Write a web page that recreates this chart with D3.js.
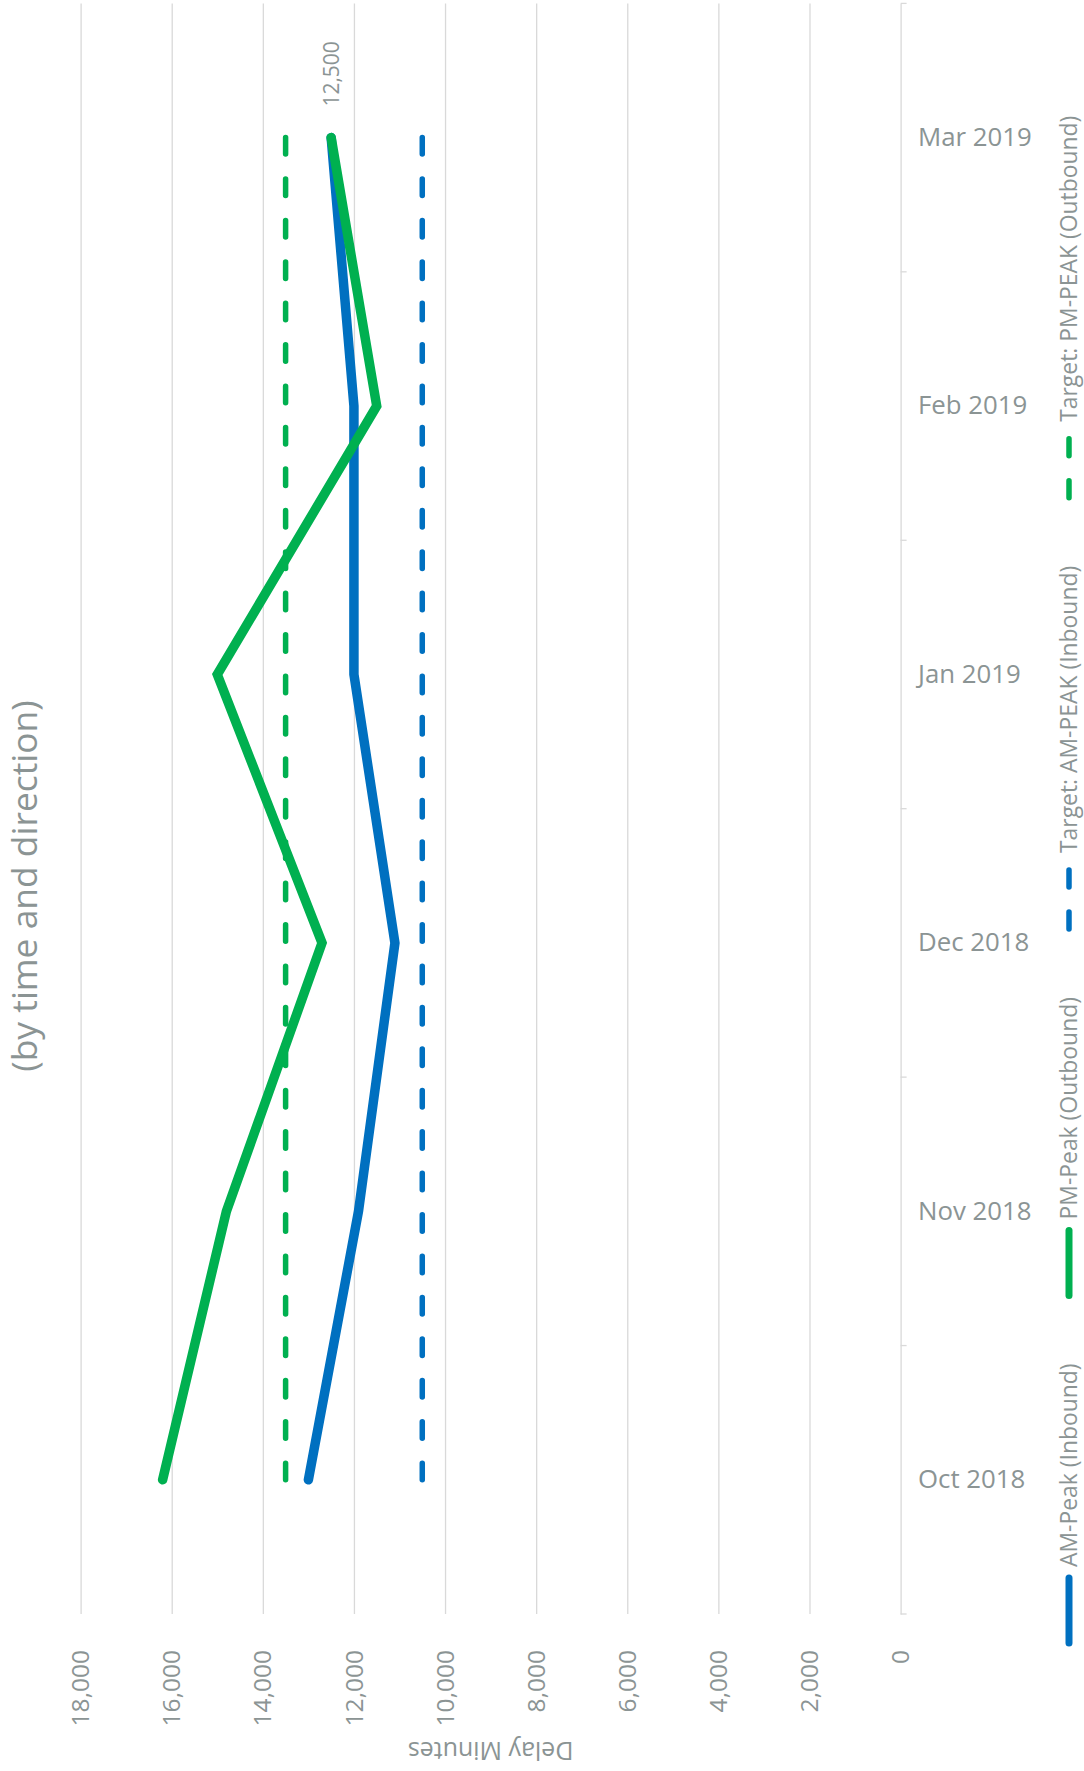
<!DOCTYPE html>
<html>
<head>
<meta charset="utf-8">
<script src="https://cdn.jsdelivr.net/npm/d3@7"></script>
<style>
  html, body { margin: 0; padding: 0; background: #ffffff; }
  svg { display: block; }
  text { font-family: "Open Sans", "Noto Sans", sans-serif; fill: #8b9494; }
</style>
</head>
<body>
<svg id="chart" width="1084" height="1771"></svg>
<script>
// Monthly delay minutes, by peak period and direction
const months = ["Oct 2018", "Nov 2018", "Dec 2018", "Jan 2019", "Feb 2019", "Mar 2019"];
const amPeakInbound = [13000, 11900, 11100, 12000, 12000, 12500];
const pmPeakOutbound = [16200, 14800, 12700, 15000, 11500, 12500];
const targetAmPeak = [10500, 10500, 10500, 10500, 10500, 10500];
const targetPmPeak = [13500, 13500, 13500, 13500, 13500, 13500];
const valueTicks = [0, 2000, 4000, 6000, 8000, 10000, 12000, 14000, 16000, 18000];
const legendLabels = ["AM-Peak (Inbound)", "PM-Peak (Outbound)", "Target: AM-PEAK (Inbound)", "Target: PM-PEAK (Outbound)"];

const BLUE = "#0070c0";
const GREEN = "#00b050";
const GRID = "#d9d9d9";

const svg = d3.select("#chart");

// Value axis runs right-to-left, months run bottom-to-top
const plotTop = 3.4, plotBottom = 1614;
const x = d3.scaleLinear().domain([0, 18000]).range([900.6, 80.6]);
const y = d3.scaleBand().domain(months).range([plotBottom, plotTop]);
const yc = m => y(m) + y.bandwidth() / 2;

// Gridlines
const grid = svg.append("g")
  .attr("transform", `translate(0,${plotBottom})`)
  .call(d3.axisBottom(x).tickValues(valueTicks.filter(v => v > 0))
    .tickSize(-(plotBottom - plotTop)).tickFormat(""));
grid.select(".domain").remove();
grid.selectAll(".tick line").attr("stroke", GRID).attr("stroke-width", 1.3);

// Value tick labels, reading upward
svg.append("g").selectAll("text")
  .data(valueTicks)
  .join("text")
  .attr("transform", d => `translate(${x(d)},1650) rotate(-90)`)
  .attr("text-anchor", "end")
  .attr("dy", "0.35em")
  .style("font-size", "24.5px")
  .text(d => d3.format(",")(d));

// Category axis on the right
const catAxis = svg.append("g")
  .attr("transform", `translate(${x(0)},0)`)
  .call(d3.axisRight(y).tickSize(0).tickPadding(17.4));
catAxis.select(".domain").attr("stroke", GRID).attr("stroke-width", 1.3);
catAxis.selectAll(".tick text")
  .style("font-size", "25.8px")
  .attr("fill", "#8b9494");

// Tick marks between months
const edges = months.map(m => y(m)).concat([y(months[0]) + y.bandwidth()]);
catAxis.selectAll("line.edge")
  .data(edges)
  .join("line")
  .attr("class", "edge")
  .attr("x1", 0).attr("x2", 6)
  .attr("y1", d => d).attr("y2", d => d)
  .attr("stroke", GRID).attr("stroke-width", 1.3);

// Axis title, upside down
svg.append("text")
  .attr("transform", `translate(${(x(0) + x(18000)) / 2},1751) rotate(180)`)
  .attr("text-anchor", "middle")
  .attr("dy", "0.35em")
  .style("font-size", "25px")
  .text("Delay Minutes");

// Subtitle on the left
svg.append("text")
  .attr("transform", "translate(25,886) rotate(-90)")
  .attr("text-anchor", "middle")
  .attr("dy", "0.35em")
  .style("font-size", "35.4px")
  .text("(by time and direction)");

// Series
const line = d3.line().x(d => x(d.v)).y(d => yc(d.m));
const toPts = arr => arr.map((v, i) => ({ m: months[i], v }));

const series = [
  { values: amPeakInbound, color: BLUE, dashed: false, width: 9.5 },
  { values: pmPeakOutbound, color: GREEN, dashed: false, width: 9.5 },
  { values: targetAmPeak, color: BLUE, dashed: true, width: 5.5 },
  { values: targetPmPeak, color: GREEN, dashed: true, width: 5.5 }
];

const DASH = 16.5;
svg.append("g").selectAll("path")
  .data(series)
  .join("path")
  .attr("d", s => line(toPts(s.values)))
  .attr("fill", "none")
  .attr("stroke", s => s.color)
  .attr("stroke-width", s => s.width)
  .attr("stroke-linecap", "round")
  .attr("stroke-linejoin", "miter")
  .each(function (s) {
    if (!s.dashed) return;
    // fit the dash period so the line starts and ends on a full dash
    const len = this.getTotalLength();
    const count = Math.round((len + 25.5) / 42);
    const period = (len - DASH) / (count - 1);
    d3.select(this).attr("stroke-dasharray", `${DASH},${period - DASH}`);
  });

// Data label on the last PM-Peak point
const lastIdx = months.length - 1;
svg.append("text")
  .attr("transform", `translate(${x(pmPeakOutbound[lastIdx])},${yc(months[lastIdx]) - 31}) rotate(-90)`)
  .attr("text-anchor", "start")
  .attr("dy", "0.35em")
  .style("font-size", "21px")
  .text(d3.format(",")(pmPeakOutbound[lastIdx]));

// Legend, reading upward along the right edge
const legend = svg.append("g").attr("transform", "translate(1069,1646) rotate(-90)");
let pos = 0;
series.forEach((s, i) => {
  legend.append("line")
    .attr("x1", pos + 3).attr("x2", pos + 68)
    .attr("y1", 0).attr("y2", 0)
    .attr("stroke", s.color)
    .attr("stroke-width", s.dashed ? 5.5 : 7)
    .attr("stroke-linecap", "round")
    .attr("stroke-dasharray", s.dashed ? "17,25" : null);
  const t = legend.append("text")
    .attr("x", pos + 79)
    .attr("y", 0)
    .attr("dy", "0.35em")
    .style("font-size", "22.9px")
    .text(legendLabels[i]);
  pos += 79 + t.node().getComputedTextLength() + 65;
});
</script>
</body>
</html>
